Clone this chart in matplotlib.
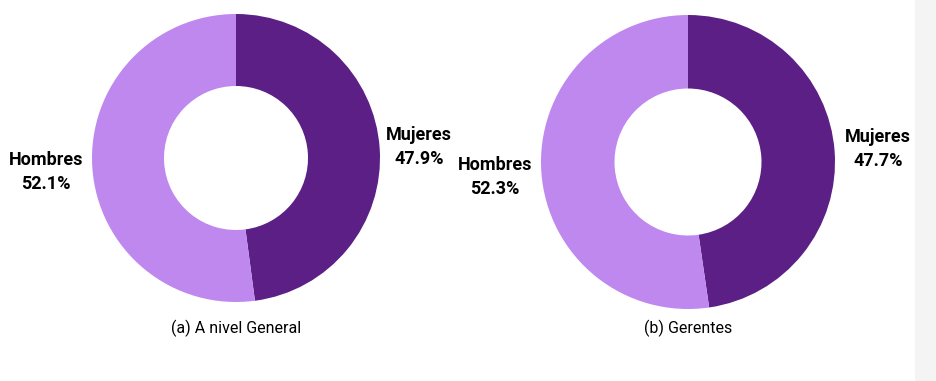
"""
Distribucion por sexo - a nivel general y gerentes
"""

import matplotlib.pyplot as plt
from matplotlib.patches import Rectangle

plt.rcParams['font.family'] = ['Roboto', 'DejaVu Sans']

categories = ['Mujeres', 'Hombres']
general = [47.9, 52.1]
gerentes = [47.7, 52.3]
captions = ['(a) A nivel General', '(b) Gerentes']
colors = ['#5b1f86', '#bf88ef']

W, H = 937, 381


def donut(ax, values, center, radius, caption, cap_y, mujeres_xy, hombres_xy):
    # y axis is inverted (pixel coords), so -90 is the top and counterclock=True runs clockwise
    ax.pie(values, colors=colors, startangle=-90, counterclock=True,
           center=center, radius=radius, frame=True,
           wedgeprops=dict(width=radius * 0.5, linewidth=0))
    ax.text(*mujeres_xy, f'{categories[0]}\n{values[0]:.1f}%', ha='center', va='center',
            fontsize=13, fontweight='bold', linespacing=1.4)
    ax.text(*hombres_xy, f'{categories[1]}\n{values[1]:.1f}%', ha='center', va='center',
            fontsize=13, fontweight='bold', linespacing=1.4)
    ax.text(center[0], cap_y, caption, ha='center', va='center', fontsize=11.5)


def main():
    fig = plt.figure(figsize=(W / 100, H / 100), dpi=100)
    ax = fig.add_axes([0, 0, 1, 1])

    donut(ax, general, (236, 158), 144, captions[0], 328, (419, 147), (46, 172))
    donut(ax, gerentes, (688, 162), 147, captions[1], 328, (878, 149), (495, 177))

    # grey strip on the right edge
    ax.add_patch(Rectangle((915, 0), W - 915, H, color='#f4f4f4', linewidth=0))

    ax.set_xlim(0, W)
    ax.set_ylim(H, 0)
    ax.set_aspect('auto')
    ax.axis('off')
    fig.savefig('out.png', dpi=100)


if __name__ == "__main__":
    main()
